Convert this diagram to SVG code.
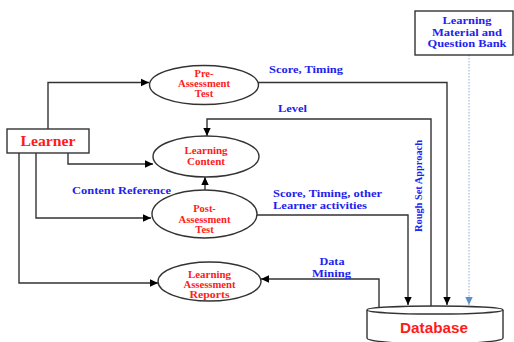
<svg xmlns="http://www.w3.org/2000/svg" width="514" height="342" viewBox="0 0 514 342">
<defs>
<marker id="ah" markerWidth="9" markerHeight="9" refX="8" refY="4.5" orient="auto" markerUnits="userSpaceOnUse">
<path d="M0,0.8 L8,4.5 L0,8.2 Z" fill="#000"/>
</marker>
<marker id="ahb" markerWidth="9" markerHeight="9" refX="8" refY="4.5" orient="auto" markerUnits="userSpaceOnUse">
<path d="M0,0.8 L8,4.5 L0,8.2 Z" fill="#5b8fc9"/>
</marker>
</defs>
<style>
.n{fill:#fff;stroke:#333;stroke-width:1.4}
.nt{font-family:"Liberation Serif",serif;font-weight:bold;font-size:10.5px;fill:#ff2020;text-anchor:middle}
.lb{font-family:"Liberation Serif",serif;font-weight:bold;font-size:11px;fill:#2222ee}
.c{fill:none;stroke:#333;stroke-width:1.4}
</style>
<rect width="514" height="342" fill="#fff"/>
<g id="connectors">
<path class="c" d="M48,129 V82.5 H149" marker-end="url(#ah)"/>
<path class="c" d="M68,153 V164 H153" marker-end="url(#ah)"/>
<path class="c" d="M36,153 V218 H151" marker-end="url(#ah)"/>
<path class="c" d="M19,153 V283 H158" marker-end="url(#ah)"/>
<path class="c" d="M258,82.5 H447 V305" marker-end="url(#ah)"/>
<path class="c" d="M431,307 V119 H207 V136" marker-end="url(#ah)"/>
<path class="c" d="M205,190 V177" marker-end="url(#ah)"/>
<path class="c" d="M257,215 H408 V305" marker-end="url(#ah)"/>
<path class="c" d="M379,307 V279 H261" marker-end="url(#ah)"/>
<path d="M469,55 V305" fill="none" stroke="#9dbbe0" stroke-width="1.2" stroke-dasharray="1.5,1.5" marker-end="url(#ahb)"/>
</g>
<g id="learner">
<rect class="n" x="7" y="129" width="82" height="24"/>
<text x="48" y="146" font-family="'Liberation Serif',serif" font-weight="bold" font-size="15" fill="#ff1a1a" text-anchor="middle" textLength="55" lengthAdjust="spacingAndGlyphs">Learner</text>
</g>
<g id="pre-assessment">
<ellipse class="n" cx="204" cy="85" rx="54.5" ry="19.5"/>
<text class="nt" x="204" y="76.5">Pre-</text>
<text class="nt" x="204" y="86.5" textLength="52" lengthAdjust="spacingAndGlyphs">Assessment</text>
<text class="nt" x="204" y="96.5">Test</text>
</g>
<g id="learning-content">
<ellipse class="n" cx="206" cy="156.5" rx="53" ry="20.5"/>
<text class="nt" x="206" y="154" textLength="43" lengthAdjust="spacingAndGlyphs">Learning</text>
<text class="nt" x="206" y="164.5" textLength="38" lengthAdjust="spacingAndGlyphs">Content</text>
</g>
<g id="post-assessment">
<ellipse class="n" cx="204.5" cy="214" rx="52.5" ry="24"/>
<text class="nt" x="204.5" y="211.5">Post-</text>
<text class="nt" x="204.5" y="222.5" textLength="52" lengthAdjust="spacingAndGlyphs">Assessment</text>
<text class="nt" x="204.5" y="233">Test</text>
</g>
<g id="reports">
<ellipse class="n" cx="209.5" cy="281.5" rx="51.5" ry="19.5"/>
<text class="nt" x="209.5" y="278" textLength="43" lengthAdjust="spacingAndGlyphs">Learning</text>
<text class="nt" x="209.5" y="287.5" textLength="52" lengthAdjust="spacingAndGlyphs">Assessment</text>
<text class="nt" x="209.5" y="297.5" textLength="40" lengthAdjust="spacingAndGlyphs">Reports</text>
</g>
<g id="material">
<rect class="n" x="415" y="11" width="98" height="44"/>
<text class="lb" x="467" y="23.5" text-anchor="middle" textLength="49" lengthAdjust="spacingAndGlyphs">Learning</text>
<text class="lb" x="467" y="35.5" text-anchor="middle" textLength="70" lengthAdjust="spacingAndGlyphs">Material and</text>
<text class="lb" x="467" y="47" text-anchor="middle" textLength="79" lengthAdjust="spacingAndGlyphs">Question Bank</text>
</g>
<g id="database">
<path d="M367,310 V338 A68,6 0 0 0 503,338 V310" fill="#fff" stroke="#333" stroke-width="1.4"/>
<ellipse class="n" cx="435" cy="310" rx="68" ry="4"/>
<text x="434" y="333" font-family="'Liberation Sans',sans-serif" font-weight="bold" font-size="15.3" fill="#ff1a1a" text-anchor="middle">Database</text>
</g>
<g id="labels">
<text class="lb" x="269" y="73" textLength="74" lengthAdjust="spacingAndGlyphs">Score, Timing</text>
<text class="lb" x="278" y="112" textLength="29" lengthAdjust="spacingAndGlyphs">Level</text>
<text class="lb" x="72" y="194" textLength="99" lengthAdjust="spacingAndGlyphs">Content Reference</text>
<text class="lb" x="273" y="197" textLength="109" lengthAdjust="spacingAndGlyphs">Score, Timing, other</text>
<text class="lb" x="273" y="209" textLength="94" lengthAdjust="spacingAndGlyphs">Learner activities</text>
<text class="lb" x="332" y="265" text-anchor="middle" textLength="25" lengthAdjust="spacingAndGlyphs">Data</text>
<text class="lb" x="331.5" y="277" text-anchor="middle" textLength="39" lengthAdjust="spacingAndGlyphs">Mining</text>
<text class="lb" transform="translate(421.5,186) rotate(-90)" x="0" y="0" text-anchor="middle" textLength="92" lengthAdjust="spacingAndGlyphs">Rough Set Approach</text>
</g>
</svg>
